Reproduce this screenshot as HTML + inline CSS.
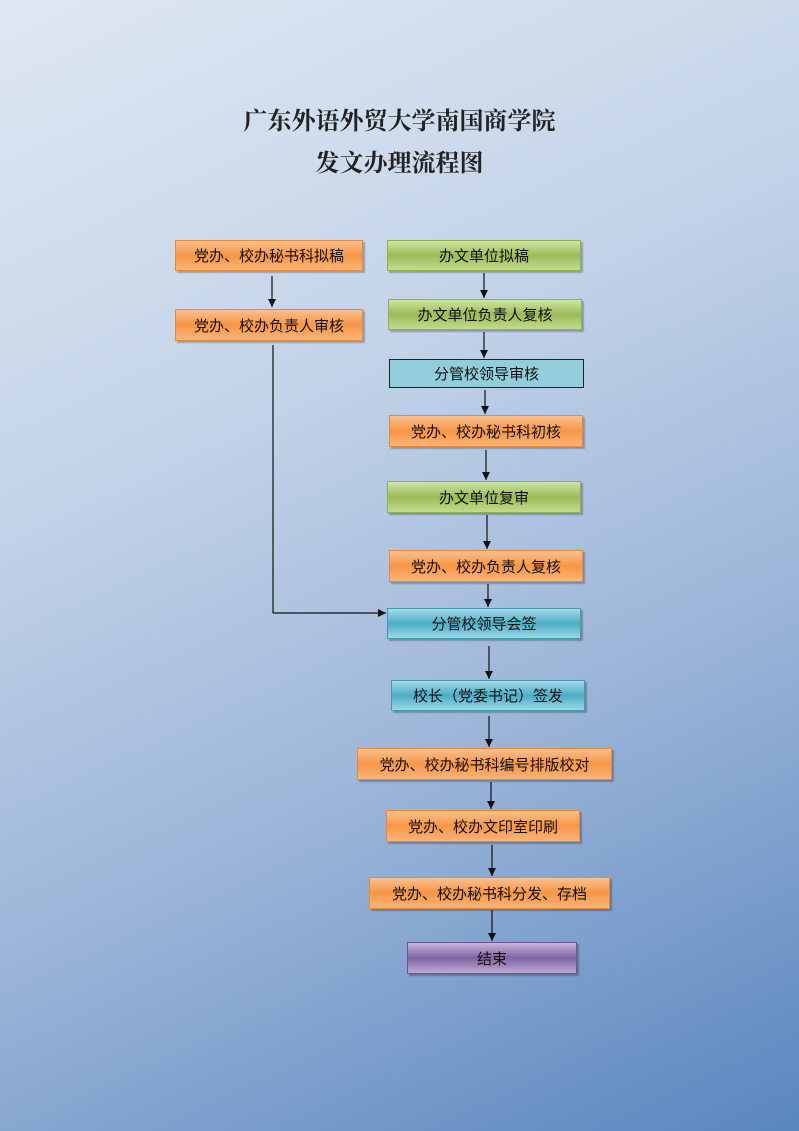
<!DOCTYPE html>
<html><head><meta charset="utf-8"><style>
body{margin:0;width:799px;height:1131px;overflow:hidden;background:linear-gradient(155deg,#dfe8f3 0%,#c3d3e8 35%,#9ab4d8 65%,#5a86bf 100%);font-family:"Liberation Sans","Noto Sans CJK SC",sans-serif;position:relative}
.t{position:absolute;left:0;width:799px;text-align:center;font-family:"Liberation Serif","Noto Serif CJK SC",serif;font-weight:bold;font-size:24px;color:#222}
.b{position:absolute;box-sizing:border-box;display:flex;align-items:center;justify-content:center;font-size:15px;color:#111;box-shadow:2px 2px 1px rgba(0,0,0,.25)}
.o{background:linear-gradient(#fbc08e,#f79646 50%,#fbb47a);border:1px solid #e58a3c}
.g{background:linear-gradient(#cfe4a3,#9bbb59 50%,#c3dc8d);border:1px solid #8fb04c}
.c{background:linear-gradient(#a6dbe8,#4bacc6 50%,#9fd6e4);border:1px solid #3f9ab3}
.p{background:linear-gradient(#c9b5db,#8064a2 50%,#bfa9d4);border:1px solid #6f5590}
.lb{background:#92cddc;border:1.5px solid #222;box-shadow:none}
svg{position:absolute;left:0;top:0}
</style></head><body>
<div class="t" style="top:101px">广东外语外贸大学南国商学院</div>
<div class="t" style="top:143px">发文办理流程图</div>
<svg width="799" height="1131"><defs><marker id="a" markerWidth="8" markerHeight="8" refX="8" refY="4" orient="auto" markerUnits="userSpaceOnUse"><path d="M0,0 L8,4 L0,8z" fill="#111"/></marker></defs>
<g stroke="#111" stroke-width="1.2" fill="none">
<line x1="272" y1="276" x2="272" y2="307" marker-end="url(#a)"/>
<line x1="273" y1="345" x2="273" y2="613"/>
<line x1="273" y1="613" x2="386" y2="613" marker-end="url(#a)"/>
<line x1="484" y1="273" x2="484" y2="298" marker-end="url(#a)"/>
<line x1="484" y1="332" x2="484" y2="358" marker-end="url(#a)"/>
<line x1="485" y1="390" x2="485" y2="414" marker-end="url(#a)"/>
<line x1="486" y1="450" x2="486" y2="480" marker-end="url(#a)"/>
<line x1="487" y1="515" x2="487" y2="549" marker-end="url(#a)"/>
<line x1="488" y1="584" x2="488" y2="607" marker-end="url(#a)"/>
<line x1="489" y1="646" x2="489" y2="679" marker-end="url(#a)"/>
<line x1="489" y1="716" x2="489" y2="747" marker-end="url(#a)"/>
<line x1="491" y1="782" x2="491" y2="809" marker-end="url(#a)"/>
<line x1="492" y1="845" x2="492" y2="876" marker-end="url(#a)"/>
<line x1="492" y1="910" x2="492" y2="941" marker-end="url(#a)"/>
</g></svg>
<div class="b o" style="left:175px;top:240px;width:188px;height:31px">党办、校办秘书科拟稿</div>
<div class="b o" style="left:175px;top:309px;width:188px;height:32px">党办、校办负责人审核</div>
<div class="b g" style="left:387px;top:240px;width:194px;height:31px">办文单位拟稿</div>
<div class="b g" style="left:388px;top:299px;width:194px;height:31px">办文单位负责人复核</div>
<div class="b lb" style="left:389px;top:359px;width:195px;height:29px">分管校领导审核</div>
<div class="b o" style="left:389px;top:415px;width:194px;height:32px">党办、校办秘书科初核</div>
<div class="b g" style="left:387px;top:481px;width:194px;height:32px">办文单位复审</div>
<div class="b o" style="left:389px;top:550px;width:194px;height:32px">党办、校办负责人复核</div>
<div class="b c" style="left:387px;top:608px;width:194px;height:31px">分管校领导会签</div>
<div class="b c" style="left:391px;top:680px;width:194px;height:31px">校长（党委书记）签发</div>
<div class="b o" style="left:357px;top:748px;width:255px;height:32px">党办、校办秘书科编号排版校对</div>
<div class="b o" style="left:386px;top:810px;width:194px;height:32px">党办、校办文印室印刷</div>
<div class="b o" style="left:369px;top:877px;width:241px;height:32px">党办、校办秘书科分发、存档</div>
<div class="b p" style="left:407px;top:942px;width:170px;height:32px">结束</div>
</body></html>
